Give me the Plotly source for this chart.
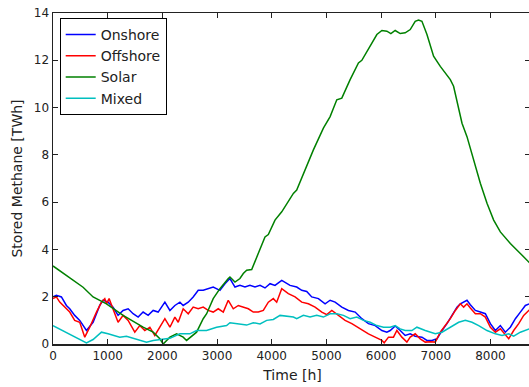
import plotly.graph_objects as go

# ---- data ----
onshore_h = [0, 62, 154, 245, 306, 397, 489, 612, 733, 855, 916, 1007, 1099, 1190, 1282, 1374, 1465, 1557, 1648, 1740,
             1832, 1923, 2046, 2138, 2229, 2321, 2381, 2473, 2564, 2656, 2747, 2839, 2930, 3053, 3145, 3236, 3328,
             3419, 3511, 3602, 3694, 3786, 3877, 3969, 4060, 4183, 4274, 4335, 4457, 4549, 4640, 4732, 4854, 4976,
             5068, 5159, 5282, 5403, 5526, 5648, 5769, 5892, 6015, 6106, 6167, 6258, 6350, 6441, 6533, 6624, 6747,
             6839, 6930, 7022, 7114, 7205, 7297, 7388, 7449, 7510, 7571, 7632, 7724, 7815, 7907, 7999, 8090, 8181,
             8273, 8364, 8456, 8547, 8639, 8760]
onshore = [1.99, 2.06, 1.99, 1.63, 1.49, 1.21, 1.0, 0.57, 0.92, 1.63, 1.85, 1.77, 1.56, 1.21, 1.42, 1.49, 1.28, 1.14,
           1.35, 1.21, 1.42, 1.35, 1.77, 1.42, 1.63, 1.77, 1.63, 1.77, 1.99, 2.27, 2.27, 2.34, 2.41, 2.27, 2.55, 2.77,
           2.41, 2.48, 2.41, 2.48, 2.41, 2.48, 2.37, 2.55, 2.48, 2.69, 2.55, 2.48, 2.41, 2.27, 2.22, 1.99, 1.92, 1.70,
           1.85, 1.77, 1.56, 1.42, 1.35, 1.07, 0.86, 0.78, 0.57, 0.50, 0.57, 0.76, 0.57, 0.36, 0.43, 0.33, 0.29,
           0.15, 0.15, 0.22, 0.57, 0.86, 1.21, 1.56, 1.70, 1.77, 1.85, 1.66, 1.42, 1.35, 1.28, 0.86, 0.57, 0.78,
           0.50, 0.71, 1.07, 1.35, 1.63, 1.74]

offshore_h = [0, 62, 123, 214, 306, 397, 489, 581, 672, 795, 886, 947, 978, 1026, 1099, 1190, 1282, 1374, 1496, 1587,
              1679, 1771, 1862, 1954, 2046, 2138, 2229, 2290, 2381, 2473, 2564, 2656, 2747, 2839, 2930, 3022, 3114,
              3205, 3297, 3389, 3480, 3572, 3663, 3755, 3846, 3938, 4029, 4091, 4183, 4304, 4427, 4549, 4670, 4793,
              4916, 5007, 5099, 5220, 5342, 5465, 5617, 5769, 5892, 6015, 6057, 6136, 6227, 6289, 6380, 6472, 6533,
              6624, 6716, 6808, 6900, 6991, 7083, 7175, 7266, 7358, 7449, 7510, 7571, 7632, 7724, 7815, 7907, 7999,
              8090, 8181, 8273, 8334, 8425, 8517, 8608, 8760]
offshore = [1.92, 1.99, 1.77, 1.56, 1.35, 1.0, 0.92, 0.29, 0.71, 1.35, 1.77, 1.92, 1.70, 1.92, 1.49, 0.92, 1.21, 1.0,
            0.50, 0.78, 0.57, 0.71, 0.36, 0.71, 1.07, 0.71, 1.14, 0.92, 1.49, 1.28, 1.56, 1.49, 1.56, 1.42, 1.35,
            1.49, 1.35, 1.85, 1.49, 1.63, 1.56, 1.49, 1.35, 1.35, 1.42, 1.77, 1.92, 1.77, 2.34, 2.13, 1.99, 1.77,
            1.70, 1.56, 1.35, 1.24, 1.42, 1.21, 1.0, 0.86, 0.64, 0.43, 0.29, 0.15, 0.05, 0.29, 0.29, 0.57, 0.29,
            0.08, 0.29, 0.43, 0.22, 0.08, 0.10, 0.08, 0.50, 0.78, 1.07, 1.42, 1.70, 1.56, 1.70, 1.52, 1.28, 1.28,
            1.14, 0.71, 0.50, 0.64, 0.36, 0.22, 0.57, 0.86, 1.21, 1.55]

solar_h = [0, 200, 400, 550, 733, 978, 1282, 1465, 1648, 1832, 1954, 2015, 2138, 2260, 2381, 2443, 2626, 2747, 2810,
           2930, 3053, 3205, 3236, 3328, 3419, 3480, 3542, 3634, 3755, 3877, 3938, 4060, 4183, 4304, 4396, 4457,
           4579, 4762, 4945, 5068, 5190, 5282, 5434, 5586, 5648, 5800, 5923, 6015, 6106, 6179, 6258, 6350, 6441,
           6533, 6624, 6685, 6747, 6839, 6960, 7083, 7266, 7326, 7480, 7571, 7692, 7815, 7937, 8059, 8181, 8364,
           8547, 8760]
solar = [3.30, 2.98, 2.66, 2.40, 1.99, 1.70, 1.21, 0.95, 0.71, 0.50, 0.22, 0.0, 0.29, 0.43, 0.29, 0.15, 0.50, 1.07,
         1.28, 1.92, 2.34, 2.77, 2.83, 2.62, 2.77, 2.98, 3.12, 3.15, 3.83, 4.53, 4.63, 5.24, 5.59, 6.02, 6.37, 6.51,
         7.22, 8.21, 9.13, 9.62, 10.33, 10.40, 11.18, 11.89, 12.0, 12.59, 13.09, 13.26, 13.23, 13.13, 13.26, 13.13,
         13.16, 13.30, 13.65, 13.70, 13.65, 13.09, 12.17, 11.74, 11.18, 10.90, 9.34, 8.77, 7.79, 6.80, 5.95, 5.24,
         4.74, 4.25, 3.83, 3.33]

mixed_h = [0, 183, 366, 612, 733, 886, 1007, 1099, 1221, 1343, 1526, 1710, 1832, 2015, 2138, 2320, 2503, 2626, 2808,
           2992, 3175, 3236, 3358, 3541, 3663, 3786, 3908, 4029, 4152, 4274, 4396, 4457, 4579, 4701, 4823, 4945,
           5068, 5190, 5312, 5434, 5556, 5678, 5800, 5923, 6045, 6167, 6258, 6350, 6441, 6563, 6655, 6808, 6991,
           7114, 7266, 7419, 7541, 7663, 7785, 7937, 8090, 8212, 8334, 8425, 8547, 8760]
mixed = [0.78, 0.57, 0.33, 0.05, 0.19, 0.50, 0.43, 0.36, 0.29, 0.33, 0.19, 0.08, 0.15, 0.19, 0.24, 0.43, 0.43, 0.57,
         0.57, 0.71, 0.78, 0.90, 0.85, 0.80, 0.90, 0.85, 1.0, 1.04, 1.21, 1.18, 1.14, 1.07, 1.21, 1.14, 1.21, 1.14,
         1.28, 1.28, 1.21, 1.07, 1.14, 1.0, 0.92, 0.78, 0.71, 0.71, 0.78, 0.64, 0.57, 0.57, 0.71, 0.57, 0.43, 0.50,
         0.71, 0.92, 1.0, 0.92, 0.78, 0.57, 0.43, 0.36, 0.43, 0.33, 0.50, 0.68]

series = [
    ("Onshore", onshore_h, onshore, "#0000ff"),
    ("Offshore", offshore_h, offshore, "#ff0000"),
    ("Solar", solar_h, solar, "#008000"),
    ("Mixed", mixed_h, mixed, "#00bfbf"),
]

x_ticks = [0, 1000, 2000, 3000, 4000, 5000, 6000, 7000, 8000]
y_ticks = [0, 2, 4, 6, 8, 10, 12, 14]

FONT = "DejaVu Sans"

fig = go.Figure()
for name, h, v, c in series:
    fig.add_trace(go.Scatter(x=h, y=v, mode="lines", name=name,
                             line=dict(color=c, width=1.5)))

# invisible trace on a right-hand axis to carry the mirrored ticks
fig.add_trace(go.Scatter(x=[0], y=[0], yaxis="y2", mode="lines", showlegend=False,
                         hoverinfo="skip", line=dict(width=0)))

fig.update_layout(
    width=532, height=387,
    margin=dict(l=53, r=0, t=13, b=43),
    paper_bgcolor="white", plot_bgcolor="white",
    font=dict(family=FONT, size=12, color="#222222"),
    hovermode=False,
    showlegend=True,
    legend=dict(x=0.014, y=0.985, xanchor="left", yanchor="top",
                bordercolor="black", borderwidth=1, bgcolor="white",
                font=dict(family=FONT, size=14, color="#222222"),
                tracegroupgap=0),
    xaxis=dict(range=[0, 8760], tickvals=x_ticks, ticktext=[str(t) for t in x_ticks],
               ticks="inside", ticklen=5, tickcolor="#222222", showgrid=False, zeroline=False,
               showline=True, linecolor="#222222", linewidth=1.5, mirror="ticks",
               tickfont=dict(size=12),
               title=dict(text="Time [h]", font=dict(size=14), standoff=8)),
    yaxis=dict(range=[0, 14], tickvals=y_ticks, ticks="inside", ticklen=5, tickcolor="#222222",
               showgrid=False, zeroline=False, showline=True, linecolor="#222222", linewidth=1.5,
               tickfont=dict(size=12),
               title=dict(text="Stored Methane [TWh]", font=dict(size=14), standoff=8)),
    yaxis2=dict(range=[0, 14], tickvals=y_ticks, overlaying="y", side="right", ticks="inside",
                ticklen=7, tickcolor="#222222", showticklabels=False, showgrid=False,
                zeroline=False, showline=False),
)

fig.write_html("out.html",
               config={"displayModeBar": False, "staticPlot": True},
               post_script="document.body.style.margin='0';document.body.style.overflow='hidden';")
